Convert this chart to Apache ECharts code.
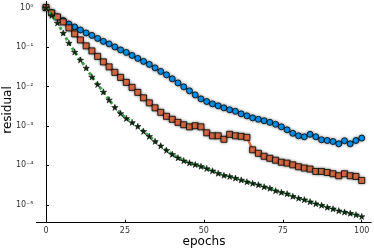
<!DOCTYPE html>
<html><head><meta charset="utf-8">
<script src="https://cdn.jsdelivr.net/npm/echarts@6/dist/echarts.min.js"></script>
<style>html,body{margin:0;padding:0;background:#fff}#c{width:374px;height:249px}</style>
</head><body><div id="c"></div>
<script>
const epochs = [0,1.82,3.64,5.45,7.27,9.09,10.91,12.73,14.55,16.36,18.18,20,21.82,23.64,25.45,27.27,29.09,30.91,32.73,34.55,36.36,38.18,40,41.82,43.64,45.45,47.27,49.09,50.91,52.73,54.55,56.36,58.18,60,61.82,63.64,65.45,67.27,69.09,70.91,72.73,74.55,76.36,78.18,80,81.82,83.64,85.45,87.27,89.09,90.91,92.73,94.55,96.36,98.18,100];
const blueResidual = [1.0,0.75,0.578,0.471,0.384,0.323,0.271,0.227,0.197,0.165,0.139,0.120,0.1006,0.0845,0.0730,0.0612,0.0514,0.0432,0.0363,0.0296,0.0241,0.0197,0.0156,0.0123,0.00977,0.00774,0.00612,0.00485,0.00415,0.00362,0.00323,0.00287,0.00256,0.00234,0.00202,0.00180,0.00160,0.00147,0.00135,0.00123,0.00110,0.000948,0.000796,0.000650,0.000561,0.000530,0.000612,0.000530,0.000445,0.000427,0.000403,0.000352,0.000420,0.000352,0.000427,0.000491];
const redResidual = [1.0,0.730,0.578,0.432,0.305,0.215,0.151,0.107,0.0797,0.0578,0.0420,0.0314,0.0228,0.0170,0.0127,0.00948,0.00709,0.00515,0.00384,0.00287,0.00221,0.00175,0.00147,0.00123,0.00107,0.000948,0.00101,0.000948,0.000668,0.000561,0.000561,0.000458,0.000612,0.000561,0.000545,0.000514,0.000248,0.000202,0.000170,0.000151,0.000135,0.000120,0.000114,0.000103,0.0000922,0.0000855,0.0000806,0.0000701,0.0000701,0.0000661,0.0000612,0.0000545,0.0000612,0.0000545,0.0000524,0.0000415];
const greenResidual = [1.0,0.631,0.408,0.227,0.127,0.0752,0.0471,0.0296,0.0175,0.0113,0.00730,0.00458,0.00296,0.00208,0.00156,0.00123,0.000977,0.000730,0.000545,0.000407,0.000313,0.000241,0.000191,0.000156,0.000132,0.000116,0.000105,0.0000948,0.0000835,0.0000730,0.0000631,0.0000561,0.0000524,0.0000477,0.0000427,0.0000385,0.0000352,0.0000323,0.0000287,0.0000263,0.0000228,0.0000208,0.0000191,0.0000165,0.0000147,0.0000135,0.0000120,0.0000107,0.00000977,0.00000869,0.00000796,0.00000709,0.00000657,0.00000612,0.00000561,0.00000508];
const xTicks = [0,25,50,75,100];
const yTicks = [1e-5,1e-4,1e-3,1e-2,1e-1,1];
const xTitle = 'epochs';
const yTitle = 'residual';

const sup = {'-':'\u207B','0':'\u2070','1':'\u00B9','2':'\u00B2','3':'\u00B3','4':'\u2074','5':'\u2075'};
function fmtPow(v){
  const e = Math.round(Math.log10(v));
  return '10' + String(e).split('').map(c=>sup[c]).join('');
}
const pairs = arr => epochs.map((x,i)=>[x,arr[i]]);
const starPath = 'path://M50,0 L61,35 L98,35 L68,57 L79,91 L50,70 L21,91 L32,57 L2,35 L39,35 Z';
const halo = {shadowBlur:3, shadowColor:'rgba(0,0,0,0.45)'};
const titleFont = {fontSize:12, fill:'#000', fontFamily:'DejaVu Sans'};

const chart = echarts.init(document.getElementById('c'), null, {renderer:'canvas'});
chart.setOption({
  animation:false,
  backgroundColor:'#fff',
  textStyle:{fontFamily:'DejaVu Sans'},
  grid:{left:36.5, right:2.8, top:1.3, bottom:26.3, containLabel:false, outerBoundsMode:'none'},
  graphic:[
    {type:'text', x:204, y:241.5, style:Object.assign({text:xTitle, align:'center', verticalAlign:'middle'}, titleFont)},
    {type:'text', x:8, y:110, rotation:Math.PI/2, style:Object.assign({text:yTitle, align:'center', verticalAlign:'middle'}, titleFont)}
  ],
  xAxis:{
    type:'value', min:-3, max:103,
    axisLine:{show:true, lineStyle:{color:'#000', width:1}},
    axisTick:{show:true, inside:true, length:3, customValues:xTicks, lineStyle:{color:'#000'}},
    axisLabel:{customValues:xTicks, fontSize:8, color:'#333', margin:4},
    splitLine:{show:false}
  },
  yAxis:{
    type:'log', logBase:10, min:3.52e-6, max:1.442,
    axisLine:{show:true, lineStyle:{color:'#000', width:1}},
    axisTick:{show:true, inside:true, length:3, customValues:yTicks, lineStyle:{color:'#000'}},
    axisLabel:{customValues:yTicks, fontSize:8, color:'#333', margin:3, formatter:fmtPow},
    splitLine:{show:false}
  },
  series:[
    {type:'line', data:pairs(blueResidual), z:2,
     lineStyle:{color:'#009af9', width:1.5},
     symbol:'circle', symbolSize:6,
     itemStyle:Object.assign({color:'#009af9', borderColor:'#000', borderWidth:0.8}, halo)},
    {type:'line', data:pairs(redResidual), z:3,
     lineStyle:{color:'#e26f46', width:2.5},
     symbol:'rect', symbolSize:6,
     itemStyle:Object.assign({color:'#e26f46', borderColor:'#000', borderWidth:0.8}, halo)},
    {type:'line', data:pairs(greenResidual), z:4,
     lineStyle:{color:'#3da44d', width:3, type:'dotted'},
     symbol:starPath, symbolSize:6.5, symbolKeepAspect:true,
     itemStyle:{color:'#0f2a12', borderColor:'#000', borderWidth:0.5}}
  ]
});
</script></body></html>
